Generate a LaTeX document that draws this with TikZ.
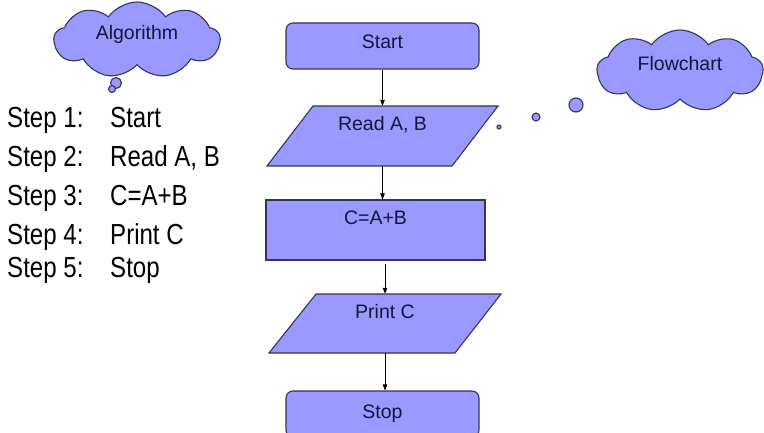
\documentclass[tikz,border=0pt]{standalone}
\usepackage{fontspec}
\setmainfont{Liberation Sans}
\usetikzlibrary{shapes.symbols,arrows.meta}
\definecolor{boxfill}{HTML}{9999FF}
\definecolor{boxline}{HTML}{34345C}
\definecolor{navy}{HTML}{161638}
\begin{document}
\begin{tikzpicture}[x=1pt,y=-1pt,
  fc/.style={font=\fontsize{19.5}{22}\selectfont, text=navy, text height=14pt},
  rbox/.style={fc, draw=boxline, fill=boxfill, line width=1.1pt, rounded corners=7pt, inner sep=0pt},
  sqbox/.style={fc, draw=boxline, fill=boxfill, line width=1.1pt, inner sep=0pt},
  pshape/.style={draw=boxline, fill=boxfill, line width=1.1pt, line join=miter},
  pbox/.style={fc, inner sep=0pt, minimum width=185pt, minimum height=60pt},
  thought/.style={cloud, cloud puffs=9, cloud puff arc=110, aspect=2.2, draw=boxline, fill=boxfill,
    line width=1.1pt, inner sep=0pt, font=\fontsize{19.5}{22}\selectfont, text=navy, text height=14pt, text depth=14pt},
  bubble/.style={draw=boxline, fill=boxfill, line width=1.1pt},
  flow/.style={-{Triangle[length=6pt,width=4.5pt]}, line width=0.8pt, black},
  listtext/.style={anchor=base west, inner sep=0pt, font=\fontsize{29}{32}\selectfont, text=black}
]
\useasboundingbox (0,0) rectangle (764,433);
\fill[white] (0,0) rectangle (764,433);

% clouds
\node[thought, minimum width=166pt, minimum height=76pt] (alg) at (137,40) {Algorithm};
\draw[bubble] (116,83) circle (5.5);
\draw[bubble] (112,89) circle (3.5);

\node[thought, minimum width=166pt, minimum height=82pt] (fc) at (680,71) {Flowchart};
\draw[bubble] (576,105) circle (7);
\draw[bubble] (536,117) circle (4);
\draw[bubble] (499,127) circle (2);

% algorithm list
\node[listtext] (s1) at (7,128) {\scalebox{0.83}[1]{Step 1:}};
\node[listtext] (s2) at (7,167) {\scalebox{0.83}[1]{Step 2:}};
\node[listtext] (s3) at (7,206) {\scalebox{0.83}[1]{Step 3:}};
\node[listtext] (s4) at (7,245) {\scalebox{0.83}[1]{Step 4:}};
\node[listtext] (s5) at (7,277) {\scalebox{0.83}[1]{Step 5:}};
\node[listtext] (t1) at (110,128) {\scalebox{0.83}[1]{Start}};
\node[listtext] (t2) at (110,167) {\scalebox{0.83}[1]{Read A, B}};
\node[listtext] (t3) at (110,206) {\scalebox{0.83}[1]{C=A+B}};
\node[listtext] (t4) at (110,245) {\scalebox{0.83}[1]{Print C}};
\node[listtext] (t5) at (110,277) {\scalebox{0.83}[1]{Stop}};

% flowchart
\node[rbox, minimum width=193pt, minimum height=46pt, text depth=8pt] (start) at (382.5,46) {Start};

\draw[pshape] (313,106) -- (498,106) -- (452,166) -- (267,166) -- cycle;
\node[pbox, text depth=24pt] (read) at (382.5,136) {Read A, B};

\node[sqbox, minimum width=219pt, minimum height=60pt, text depth=24pt] (calc) at (375.5,230) {C=A+B};

\draw[pshape] (316,294) -- (501,294) -- (455,353) -- (269,353) -- cycle;
\node[pbox, minimum height=59pt, text depth=25pt] (print) at (385,323.5) {Print C};

\node[rbox, minimum width=193pt, minimum height=46pt, text depth=6pt] (stop) at (382.5,414) {Stop};

\draw[flow] (start.south) -- (read.north);
\draw[flow] (read.south) -- (read.south |- calc.north);
\draw[flow] ([yshift=-3pt]print.north |- calc.south) -- (print.north);
\draw[flow] (print.south) -- (print.south |- stop.north);
\end{tikzpicture}
\end{document}
